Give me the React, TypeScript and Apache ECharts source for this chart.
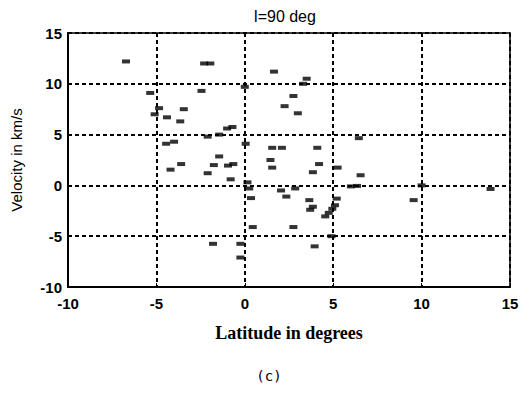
import React, { useEffect, useRef } from "react";
import * as echarts from "echarts";

const latitude: number[] = [
  -6.72, -2.3, -1.95, -5.35, -2.45, 0.0, 1.65, 3.5, 3.3, 2.75, 2.25, 3.0,
  -5.1, -4.85, -4.4, -3.45, -3.65, -2.1, -1.45, -1.0, -0.7, -4.45, -4.0, 0.05,
  -4.2, -3.6, -2.1, -1.75, -1.45, -0.95, -0.65, -0.8, 1.55, 2.1, 1.45, 1.55,
  4.1, 4.2, 3.85, 5.25, 6.45, 6.55, 6.0, 6.35, 0.15, 0.25, 0.35, 0.45,
  2.05, 2.35, 2.85, 2.75, 3.65, 3.7, 3.85, 3.95, 4.55, 4.75, 4.95, 5.1,
  5.2, 4.9, -1.8, -0.25, -0.25, 9.55, 10.0, 13.9,
];
const velocity: number[] = [
  12.2, 12.0, 12.0, 9.1, 9.3, 9.7, 11.2, 10.5, 10.0, 8.8, 7.8, 7.1,
  7.0, 7.6, 6.7, 7.5, 6.3, 4.8, 5.0, 5.6, 5.75, 4.1, 4.3, 4.1,
  1.55, 2.1, 1.2, 2.0, 2.85, 1.95, 2.1, 0.6, 3.7, 3.7, 2.5, 1.75,
  3.7, 2.1, 1.3, 1.75, 4.65, 1.0, -0.1, -0.05, 0.3, -0.3, -1.25, -4.1,
  -0.5, -1.1, -0.3, -4.1, -1.45, -2.4, -2.1, -6.0, -3.05, -2.7, -2.3, -1.95,
  -1.3, -5.0, -5.75, -5.75, -7.1, -1.45, 0.0, -0.35,
];

const titleText = "l=90 deg";
const xTitle = "Latitude in degrees";
const yTitle = "Velocity in km/s";
const caption = "(c)";

export default function App() {
  const ref = useRef<HTMLDivElement>(null);
  useEffect(() => {
    if (!ref.current) return;
    const chart = echarts.init(ref.current, null, { renderer: "svg" });
    const data = latitude.map((x, i) => [x, velocity[i]]);
    const tickFont = {
      color: "#000",
      fontFamily: "Liberation Sans, Arial, sans-serif",
      fontWeight: "bold" as const,
      fontSize: 15,
    };
    const split = {
      show: true,
      lineStyle: { color: "#000", type: [4, 3], width: 2 },
    };
    chart.setOption({
      animation: false,
      backgroundColor: "#fff",
      title: [
        {
          text: titleText,
          left: 280,
          top: 3,
          textAlign: "center",
          textStyle: {
            fontFamily: "Liberation Sans, Arial, sans-serif",
            fontWeight: "normal",
            fontSize: 16,
            color: "#000",
          },
        },
        {
          text: caption,
          left: 264,
          top: 364,
          textAlign: "center",
          textStyle: {
            fontFamily: "DejaVu Sans Mono, monospace",
            fontWeight: "normal",
            fontSize: 14,
            color: "#000",
          },
        },
      ],
      grid: {
        left: 68,
        right: 19,
        top: 33,
        bottom: 111,
        show: true,
        borderColor: "#000",
        borderWidth: 1.5,
        backgroundColor: "transparent",
      },
      xAxis: {
        type: "value",
        min: -10,
        max: 15,
        interval: 5,
        name: xTitle,
        nameLocation: "middle",
        nameGap: 37,
        nameTextStyle: {
          fontFamily: "Liberation Serif, Times New Roman, serif",
          fontWeight: "bold",
          fontSize: 18,
          color: "#000",
        },
        axisLine: { show: true, onZero: false, lineStyle: { color: "#000", width: 2 } },
        axisTick: { show: true, inside: true, length: 4, lineStyle: { color: "#000" } },
        axisLabel: { ...tickFont, margin: 9 },
        splitLine: split,
      },
      yAxis: {
        type: "value",
        min: -10,
        max: 15,
        interval: 5,
        name: yTitle,
        nameLocation: "middle",
        nameGap: 44,
        nameTextStyle: {
          fontFamily: "Liberation Sans, Arial, sans-serif",
          fontSize: 15,
          color: "#000",
        },
        axisLine: { show: true, onZero: false, lineStyle: { color: "#000", width: 2 } },
        axisTick: { show: true, inside: true, length: 4, lineStyle: { color: "#000" } },
        axisLabel: { ...tickFont, margin: 6 },
        splitLine: split,
      },
      series: [
        {
          type: "scatter",
          data,
          symbol: "rect",
          symbolSize: [8, 4],
          itemStyle: { color: "#000" },
        },
      ],
    });
    return () => chart.dispose();
  }, []);
  return (
    <div
      ref={ref}
      style={{ position: "absolute", left: 0, top: 0, width: 529, height: 398, background: "#fff" }}
    />
  );
}
